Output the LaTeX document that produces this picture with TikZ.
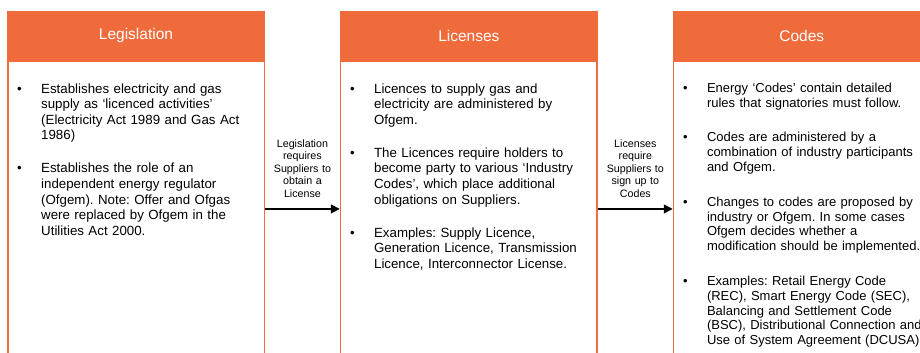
\documentclass[tikz,border=0pt]{standalone}
\usepackage{fontspec}
\setmainfont{Liberation Sans}
\usetikzlibrary{arrows.meta,positioning}
\definecolor{orange}{HTML}{F06B3B}
\frenchspacing

% bulleted text inside the column boxes
\newlength{\pointgap}
\setlength{\pointgap}{17.5pt}
\newenvironment{points}{\begin{list}{\textbullet}{%
  \setlength{\leftmargin}{24pt}\setlength{\labelwidth}{24pt}%
  \setlength{\labelsep}{0pt}\setlength{\itemindent}{0pt}%
  \setlength{\itemsep}{\pointgap}\setlength{\parsep}{0pt}%
  \setlength{\topsep}{0pt}\setlength{\partopsep}{0pt}%
  \def\makelabel##1{##1\hfil}}}{\end{list}}

\begin{document}
\begin{tikzpicture}[x=1pt,y=-1pt,
  head/.style={fill=orange,text=white,minimum width=258pt,minimum height=48.5pt,inner sep=0pt,font=\fontsize{15.5}{18}\selectfont},
  body/.style={draw=orange,line width=1.5pt,minimum width=256.5pt,minimum height=296pt,inner sep=0pt},
  bullets/.style={anchor=north west,inner sep=0pt,text width=270pt,align=left,font=\fontsize{13.3}{15.6}\selectfont},
  note/.style={inner sep=0pt,text width=70pt,align=center,font=\fontsize{10.7}{12.6}\selectfont},
  link/.style={line width=2.6pt,-{Triangle[length=9pt,width=8.5pt]}}]
\useasboundingbox (0,0) rectangle (920,353);

% column headers
\node[head] (leg) at (136,35.75) {Legislation};
\node[head,right=74.5pt of leg] (lic) {Licenses};
\node[head,right=74.5pt of lic] (cod) {Codes};

% column bodies
\node[body,below=0pt of leg] (legbody) {};
\node[body,below=0pt of lic] (licbody) {};
\node[body,below=0pt of cod] (codbody) {};

\node[bullets,below right=17pt and 10pt of legbody.north west] (legtext) {\begin{points}
\item Establishes electricity and gas\\ supply as ‘licenced activities’\\ (Electricity Act 1989 and Gas Act\\ 1986)
\item Establishes the role of an\\ independent energy regulator\\ (Ofgem). Note: Offer and Ofgas\\ were replaced by Ofgem in the\\ Utilities Act 2000.
\end{points}};

\node[bullets,below right=17pt and 10pt of licbody.north west] (lictext) {\begin{points}
\item Licences to supply gas and\\ electricity are administered by\\ Ofgem.
\item The Licences require holders to\\ become party to various ‘Industry\\ Codes’, which place additional\\ obligations on Suppliers.
\item Examples: Supply Licence,\\ Generation Licence, Transmission\\ Licence, Interconnector License.
\end{points}};

% third column is set a little tighter
\node[bullets,font=\fontsize{13}{14.8}\selectfont,below right=17pt and 10pt of codbody.north west] (codtext) {\setlength{\pointgap}{20pt}\begin{points}
\item Energy ‘Codes’ contain detailed\\ rules that signatories must follow.
\item Codes are administered by a\\ combination of industry participants\\ and Ofgem.
\item Changes to codes are proposed by\\ industry or Ofgem. In some cases\\ Ofgem decides whether a\\ modification should be implemented.
\item Examples: Retail Energy Code\\ (REC), Smart Energy Code (SEC),\\ Balancing and Settlement Code\\ (BSC), Distributional Connection and\\ Use of System Agreement (DCUSA)
\end{points}};

% arrows between the columns
\draw[link] (legbody) -- node[note,above=10pt] {Legislation\\ requires\\ Suppliers to\\ obtain a\\ License} (licbody);
\draw[link] (licbody) -- node[note,above=10pt] {Licenses\\ require\\ Suppliers to\\ sign up to\\ Codes} (codbody);
\end{tikzpicture}
\end{document}
